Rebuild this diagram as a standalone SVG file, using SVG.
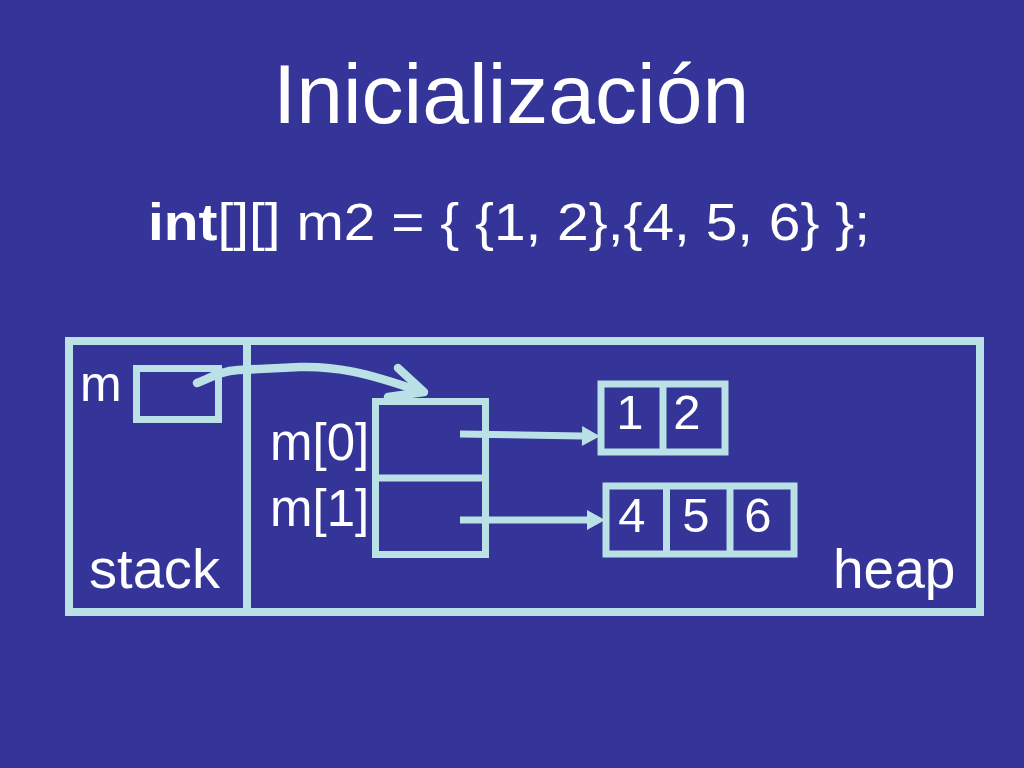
<svg xmlns="http://www.w3.org/2000/svg" width="1024" height="768" viewBox="0 0 1024 768">
<style>
.bg{fill:#343499}
.ln{fill:none;stroke:#b9e1e6;stroke-width:8}
.cell{fill:none;stroke:#b9e1e6;stroke-width:7}
.t{fill:#ffffff;font-family:"Liberation Sans",Arial,Helvetica,sans-serif}
.arr{fill:none;stroke:#b9e1e6;stroke-width:7}
</style>
<defs>
<marker id="head" markerUnits="userSpaceOnUse" markerWidth="20" markerHeight="22" refX="0" refY="10" orient="auto" overflow="visible">
<path d="M0,0 L18,10 L0,20 Z" fill="#b9e1e6"/>
</marker>
</defs>
<rect class="bg" x="0" y="0" width="1024" height="768"/>
<text class="t" x="511" y="123" font-size="84" text-anchor="middle">Inicialización</text>
<text class="t" x="148" y="240" font-size="52" textLength="722" lengthAdjust="spacingAndGlyphs"><tspan font-weight="bold">int</tspan>[][] m2 = { {1, 2},{4, 5, 6} };</text>

<g id="memory">
<rect class="ln" x="69" y="341" width="911" height="271"/>
<line class="ln" x1="247" y1="341" x2="247" y2="612"/>
<text class="t" x="89" y="588" font-size="56" textLength="131" lengthAdjust="spacingAndGlyphs">stack</text>
<text class="t" x="833" y="588" font-size="55">heap</text>
</g>

<g id="m">
<rect class="cell" x="136.5" y="368.5" width="82" height="51"/>
<text class="t" x="80" y="401" font-size="50">m</text>
</g>

<g id="array">
<rect class="cell" x="375.5" y="401.5" width="110" height="153"/>
<line class="cell" x1="375.5" y1="478" x2="485.5" y2="478"/>
<rect x="453" y="401" width="5" height="3" fill="#b9e1e6"/>
<rect x="462" y="401" width="5" height="3" fill="#b9e1e6"/>
<text class="t" x="270" y="460" font-size="51">m[0]</text>
<text class="t" x="270" y="526" font-size="51">m[1]</text>
</g>

<g id="row0">
<rect class="cell" x="601" y="384" width="124" height="68"/>
<line class="cell" x1="663" y1="384" x2="663" y2="452"/>
<text class="t" x="630" y="429" font-size="49" text-anchor="middle">1</text>
<text class="t" x="687" y="429" font-size="49" text-anchor="middle">2</text>
</g>

<g id="row1">
<rect class="cell" x="606" y="486" width="188" height="68"/>
<line class="cell" x1="666.5" y1="486" x2="666.5" y2="554"/>
<line class="cell" x1="730" y1="486" x2="730" y2="554"/>
<text class="t" x="632" y="532" font-size="49" text-anchor="middle">4</text>
<text class="t" x="696" y="532" font-size="49" text-anchor="middle">5</text>
<text class="t" x="758" y="532" font-size="49" text-anchor="middle">6</text>
</g>

<g id="connectors">
<path d="M197,383 C212,377 222,371 238,370 L300,367 C335,366 365,372 422,392" fill="none" stroke="#b9e1e6" stroke-width="8.5" stroke-linecap="round"/>
<path d="M398,368 L424,392 L388,397" fill="none" stroke="#b9e1e6" stroke-width="8.5" stroke-linecap="round" stroke-linejoin="round"/>
<line class="arr" x1="460" y1="434" x2="582" y2="436" marker-end="url(#head)"/>
<line class="arr" x1="460" y1="520" x2="587" y2="520" marker-end="url(#head)"/>
</g>
</svg>
